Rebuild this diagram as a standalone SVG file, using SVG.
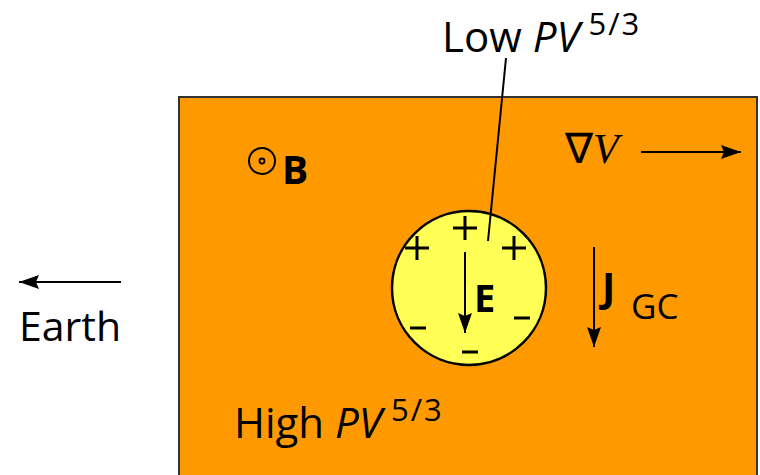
<svg xmlns="http://www.w3.org/2000/svg" width="760" height="475" viewBox="0 0 760 475">
<defs>
<style>
.t{font-family:"Open Sans","Liberation Sans",sans-serif;fill:#000}
.ln{stroke:#000;stroke-width:2;fill:none}
.sign{stroke:#000;stroke-width:3;fill:none}
.sup{font-size:31px;letter-spacing:2px}
</style>
<marker id="ahb" viewBox="0 0 20 14" refX="20" refY="7" markerWidth="20" markerHeight="14" markerUnits="userSpaceOnUse" orient="auto">
<path d="M0,0 L20,7 L0,14 L3,7 Z" fill="#000"/>
</marker>
</defs>
<rect width="760" height="475" fill="#fff"/>
<g id="region">
<rect x="179" y="97" width="578" height="400" fill="#ff9900" stroke="#333" stroke-width="2"/>
</g>
<g id="bubble">
<circle cx="469" cy="288" r="77" fill="#ffff55" stroke="#000" stroke-width="2.5"/>
<path class="sign" d="M453,228 H477 M465,216 V240"/>
<path class="sign" d="M405,248 H429 M417,236 V260"/>
<path class="sign" d="M502,248 H526 M514,236 V260"/>
<path class="sign" d="M410,328 H426"/>
<path class="sign" d="M514,318 H530"/>
<path class="sign" d="M462,352 H478"/>
<text class="t" x="474" y="312" font-size="38" font-weight="bold">E</text>
</g>
<g id="labels">
<text class="t" x="442" y="52" font-size="42">Low <tspan font-style="italic">PV</tspan><tspan class="sup" dx="9" dy="-17">5/3</tspan></text>
<text class="t" x="234" y="438" font-size="42">High <tspan font-style="italic">PV</tspan><tspan class="sup" dx="9" dy="-17">5/3</tspan></text>
<text class="t" x="19" y="341" font-size="41">Earth</text>
<circle cx="262" cy="161" r="13" fill="none" stroke="#000" stroke-width="2"/>
<circle cx="262" cy="161" r="2.5" fill="none" stroke="#000" stroke-width="1.8"/>
<text class="t" x="282" y="184" font-size="39" font-weight="bold">B</text>
<text x="565" y="163" font-size="42" font-family="Liberation Serif,serif">∇<tspan font-style="italic">V</tspan></text>
<text class="t" x="602" y="301" font-size="40" font-weight="bold">J</text>
<text class="t" x="631" y="319" font-size="35">GC</text>
</g>
<g id="connectors">
<line class="ln" x1="506" y1="58" x2="488" y2="241" stroke-width="1.2"/>
<line class="ln" x1="465" y1="252" x2="465" y2="333" marker-end="url(#ahb)"/>
<line class="ln" x1="641" y1="152" x2="741" y2="152" marker-end="url(#ahb)"/>
<line class="ln" x1="594" y1="247" x2="594" y2="347" marker-end="url(#ahb)"/>
<line class="ln" x1="121" y1="282" x2="19" y2="282" marker-end="url(#ahb)"/>
</g>
</svg>
